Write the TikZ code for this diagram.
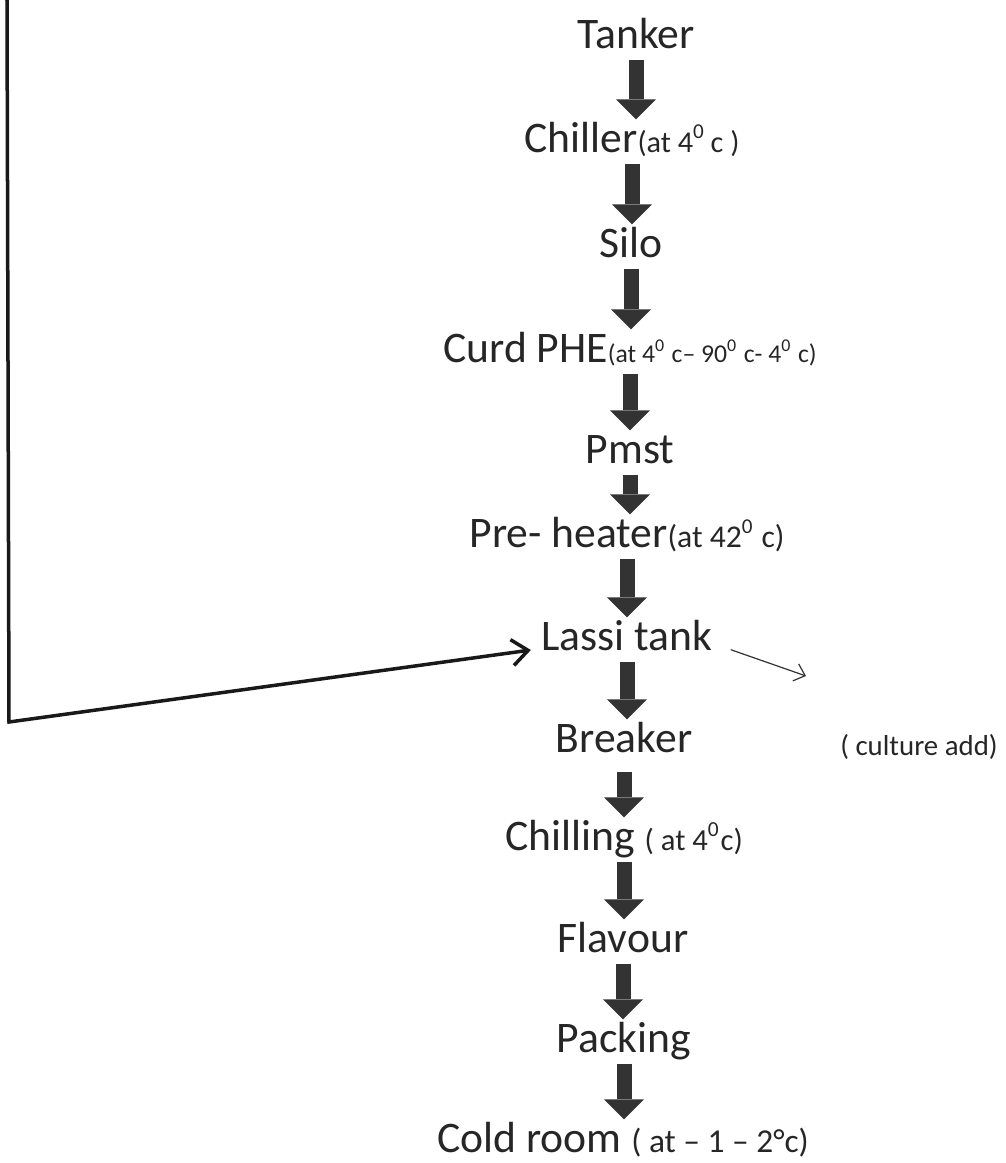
\documentclass[tikz,border=0pt]{standalone}
\usepackage{fontspec}
\setmainfont{Carlito}
\usetikzlibrary{arrows.meta}

\newcommand{\degs}{\textsuperscript{0}}
\newcommand{\note}[2]{{\fontsize{#1}{#1}\selectfont #2}}

\begin{document}
\begin{tikzpicture}[x=0.01cm,y=-0.01cm]
                \tikzset{stage/.style = {anchor=base, inner xsep=0.1cm, inner ysep=0.02cm, text height=0.3cm, text depth=0.09cm, text=black!85, font=\fontsize{12.4}{14}\selectfont}}
                \tikzset{flow/.style = {line width=0.15cm, draw=black!80, -{Triangle[length=0.2cm,width=0.4cm,line width=0pt]}}}
                \tikzset{feed/.style = {line width=0.035cm, draw=black!90, -{Straight Barb[length=0.16cm,width=0.26cm]}}}
                \tikzset{side/.style = {line width=0.012cm, draw=black!80, -{Straight Barb[length=0.1cm,width=0.18cm]}}}
                \useasboundingbox (0,0) rectangle (1005,1163);
                % vertices
                \node[stage] (tanker) at (636,48) {Tanker};
                \node[stage] (chiller) at (632,152) {Chiller\note{8.6}{(at 4\degs\,c )}};
                \node[stage] (silo) at (631,257) {Silo};
                \node[stage] (curd) at (630,362) {Curd PHE\note{7.3}{(at 4\degs\ c– 90\degs\ c- 4\degs\ c)}};
                \node[stage] (pmst) at (630,463) {Pmst};
                \node[stage] (preheat) at (627,547) {Pre- heater\note{9}{(at 42\degs\ c)}};
                \node[stage] (lassi) at (627,650) {Lassi tank};
                \node[stage] (breaker) at (624,752) {Breaker};
                \node[anchor=base, text=black!85, font=\fontsize{8.2}{9}\selectfont] (culture) at (919,755) {( culture add)};
                \node[stage] (chilling) at (624,850) {Chilling \note{8.7}{( at 4\degs c)}};
                \node[stage] (flavour) at (623,952) {Flavour};
                \node[stage] (packing) at (624,1052) {Packing};
                \node[stage] (cold) at (623,1152) {Cold room \note{9.5}{( at – 1 – 2°c)}};

                \coordinate (feedtop) at (7,0);
                \coordinate (feedbend) at (9,722);
                \coordinate (cultureend) at (806,676);
                %edges
                \draw[flow] (tanker.south) -- (tanker.south |- chiller.north);
                \draw[flow] (chiller.south) -- (chiller.south |- silo.north);
                \draw[flow] (silo.south) -- (silo.south |- curd.north);
                \draw[flow] (curd.south) -- (curd.south |- pmst.north);
                \draw[flow] (pmst.south) -- (pmst.south |- preheat.north);
                \draw[flow] (preheat.south) -- (preheat.south |- lassi.north);
                \draw[flow] (lassi.south) -- (lassi.south |- breaker.north);
                \draw[flow, shorten <=0.08cm] (breaker.south) -- (breaker.south |- chilling.north);
                \draw[flow] (chilling.south) -- (chilling.south |- flavour.north);
                \draw[flow] (flavour.south) -- (flavour.south |- packing.north);
                \draw[flow] (packing.south) -- (packing.south |- cold.north);

                \draw[feed] (feedtop) -- (feedbend) -- (lassi.base west);
                \draw[side, shorten <=0.08cm] ([yshift=0.03cm]lassi.base east) -- (cultureend);
\end{tikzpicture}
\end{document}
